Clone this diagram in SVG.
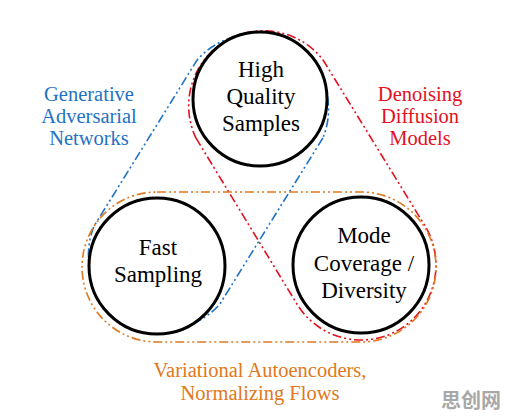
<svg xmlns="http://www.w3.org/2000/svg" width="508" height="420" viewBox="0 0 508 420">
<style>
  .node { fill: #ffffff; stroke: #000000; stroke-width: 3; }
  .lbl { font-family: "Liberation Serif", Tinos, "Times New Roman", Times, "Nimbus Roman", "Noto Serif", "DejaVu Serif", FreeSerif, serif; font-size: 23px; fill: #000000; text-anchor: middle; }
  .grp { fill: none; stroke-width: 1.6; stroke-dasharray: 9 3 2 3 2 3; }
  .glbl { font-family: "Liberation Serif", Tinos, "Times New Roman", Times, "Nimbus Roman", "Noto Serif", "DejaVu Serif", FreeSerif, serif; font-size: 20.5px; text-anchor: middle; }
</style>
<rect width="508" height="420" fill="#ffffff"/>
<g id="connectors">
  <path id="gan" class="grp" stroke="#1f72c4" d="M 322.88 138.01 L 219.88 304.01 A 75 75 0 0 1 94.12 225.99 L 197.12 59.99 A 75 75 0 0 1 322.88 138.01 Z"/>
  <path id="diffusion" class="grp" stroke="#e3101e" d="M 195.93 137.99 L 296.93 303.99 A 75 75 0 0 0 425.07 226.01 L 323.07 60.01 A 75 75 0 0 0 195.93 137.99 Z"/>
  <rect id="vae" class="grp" stroke="#e07820" x="82" y="192" width="354" height="150" rx="75" ry="75"/>
</g>
<g id="node-quality">
  <circle class="node" cx="260" cy="99" r="67"/>
  <text class="lbl" x="261" y="77">High</text>
  <text class="lbl" x="261" y="104">Quality</text>
  <text class="lbl" x="261" y="131">Samples</text>
</g>
<g id="node-fast">
  <circle class="node" cx="157" cy="266" r="68"/>
  <text class="lbl" x="158" y="255">Fast</text>
  <text class="lbl" x="158" y="282">Sampling</text>
</g>
<g id="node-mode">
  <circle class="node" cx="361" cy="265" r="68"/>
  <text class="lbl" x="364" y="243">Mode</text>
  <text class="lbl" x="364" y="271">Coverage /</text>
  <text class="lbl" x="364" y="298">Diversity</text>
</g>
<g id="label-gan" class="glbl" fill="#1f72c4">
  <text x="89" y="101">Generative</text>
  <text x="89" y="123">Adversarial</text>
  <text x="89" y="145">Networks</text>
</g>
<g id="label-diffusion" class="glbl" fill="#e3101e">
  <text x="420" y="101">Denoising</text>
  <text x="420" y="123">Diffusion</text>
  <text x="420" y="145">Models</text>
</g>
<g id="label-vae" class="glbl" fill="#e07820">
  <text x="260" y="377">Variational Autoencoders,</text>
  <text x="260" y="400">Normalizing Flows</text>
</g>
<text x="471" y="408" font-family="Noto Sans CJK SC, sans-serif" font-size="20" font-weight="bold" fill="#a8a8a8" text-anchor="middle">思创网</text>
</svg>
